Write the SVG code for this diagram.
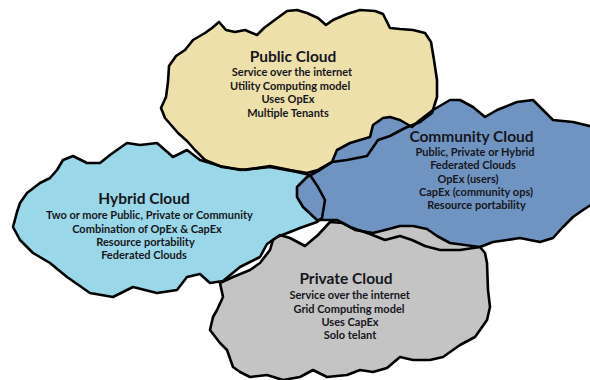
<svg xmlns="http://www.w3.org/2000/svg" xmlns:xlink="http://www.w3.org/1999/xlink" width="590" height="380" viewBox="0 0 590 380">
<style>
.t{font-family:Lato,"Open Sans","Liberation Sans",sans-serif;font-weight:bold;fill:#161620;text-anchor:middle}
.h{font-size:15.5px}
.b{font-size:11px}
.ol{fill:none;stroke:#000;stroke-width:2.6;stroke-linejoin:round}
</style>
<defs>
<path id="pPublic" d="M165,118 L161,108 L166,97 L168,82 L169,66 L176,56 L185,50 L193,40 L205,33 L212,28 L219,22 L226,30 L235,32 L245,30 L257,35 L264,28 L272,22 L287,11 L297,10 L307,13 L318,18 L326,25 L333,20 L347,14 L360,10 L375,11 L383,14 L390,28 L400,29 L413,30 L425,33 L431,42 L434,60 L437,80 L437,97 L432,113 L420,122 L405,128 L390,136 L378,140 L367,156 L347,160 L332,162 L318,170 L307,173 L290,170 L270,166 L245,170 L222,167 L205,160 L195,150 L187,141 L178,133 Z"/>
<path id="pHybrid" d="M63,160 L73,156 L87,163 L100,163 L110,155 L117,150 L127,143 L140,145 L157,143 L165,150 L173,157 L187,150 L200,160 L220,166 L240,170 L270,167 L297,172 L310,175 L318,187 L325,200 L322,218 L317,222 L300,228 L290,232 L277,237 L267,244 L260,257 L240,267 L223,281 L210,283 L200,274 L187,277 L177,290 L157,293 L133,287 L113,297 L90,293 L67,277 L50,263 L33,253 L20,240 L13,227 L17,212 L20,203 L27,193 L40,183 L50,178 L57,170 Z"/>
<path id="pCommunity" d="M332,162 L337,150 L350,143 L370,137 L373,125 L383,118 L390,117 L400,120 L412,127 L420,120 L433,110 L450,100 L460,100 L473,107 L485,117 L497,110 L517,102 L533,100 L543,110 L553,120 L573,122 L594,127 L594,203 L583,210 L573,217 L562,228 L553,238 L540,242 L520,238 L507,240 L493,242 L480,247 L460,250 L440,250 L425,246 L412,240 L400,236 L385,240 L370,234 L350,227 L337,220 L317,220 L303,207 L297,197 L297,187 L307,177 L320,170 Z"/>
<path id="pPrivate" d="M280,235 L290,238 L305,246 L318,235 L330,222 L343,223 L355,230 L373,233 L385,230 L400,226 L413,226 L427,229 L437,236 L450,243 L465,245 L480,247 L485,253 L487,263 L488,290 L490,307 L487,320 L480,330 L475,337 L460,345 L443,357 L430,360 L413,360 L400,357 L387,368 L373,372 L360,370 L347,375 L327,377 L313,370 L300,377 L283,380 L267,375 L250,377 L240,372 L233,367 L227,350 L220,343 L210,330 L213,317 L217,310 L223,297 L220,283 L233,277 L250,270 L260,263 L270,250 L273,240 Z"/>
</defs>
<rect width="590" height="380" fill="#fff"/>
<g id="hybrid-cloud">
<use xlink:href="#pHybrid" fill="#9ad8e9"/>
</g>
<g id="public-cloud">
<use xlink:href="#pPublic" fill="#eee0ab"/>
</g>
<g id="community-cloud">
<use xlink:href="#pCommunity" fill="#7094c1"/>
</g>
<g id="private-cloud">
<use xlink:href="#pPrivate" fill="#c4c4c4"/>
</g>
<g id="connectors">
<use xlink:href="#pHybrid" class="ol"/>
<use xlink:href="#pPublic" class="ol"/>
<use xlink:href="#pCommunity" class="ol"/>
<use xlink:href="#pPrivate" class="ol"/>
</g>
<g id="public-text">
<text class="t h" x="293" y="62">Public Cloud</text>
<text class="t b" x="292" y="76">Service over the internet</text>
<text class="t b" x="290" y="89.5">Utility Computing model</text>
<text class="t b" x="288" y="103">Uses OpEx</text>
<text class="t b" x="288" y="116.5">Multiple Tenants</text>
</g>
<g id="community-text">
<text class="t h" x="471.5" y="142">Community Cloud</text>
<text class="t b" x="475" y="156">Public, Private or Hybrid</text>
<text class="t b" x="473" y="169.3">Federated Clouds</text>
<text class="t b" x="468" y="182.7">OpEx (users)</text>
<text class="t b" x="476" y="196">CapEx (community ops)</text>
<text class="t b" x="476.5" y="209.3">Resource portability</text>
</g>
<g id="hybrid-text">
<text class="t h" x="144" y="204">Hybrid Cloud</text>
<text class="t b" x="149.5" y="219.3">Two or more Public, Private or Community</text>
<text class="t b" x="147" y="232.7">Combination of OpEx &amp; CapEx</text>
<text class="t b" x="145.5" y="246">Resource portability</text>
<text class="t b" x="144" y="259.3">Federated Clouds</text>
</g>
<g id="private-text">
<text class="t h" x="346" y="284">Private Cloud</text>
<text class="t b" x="349.7" y="299.3">Service over the internet</text>
<text class="t b" x="349" y="312.7">Grid Computing model</text>
<text class="t b" x="350" y="326">Uses CapEx</text>
<text class="t b" x="350" y="339.3">Solo telant</text>
</g>
</svg>
